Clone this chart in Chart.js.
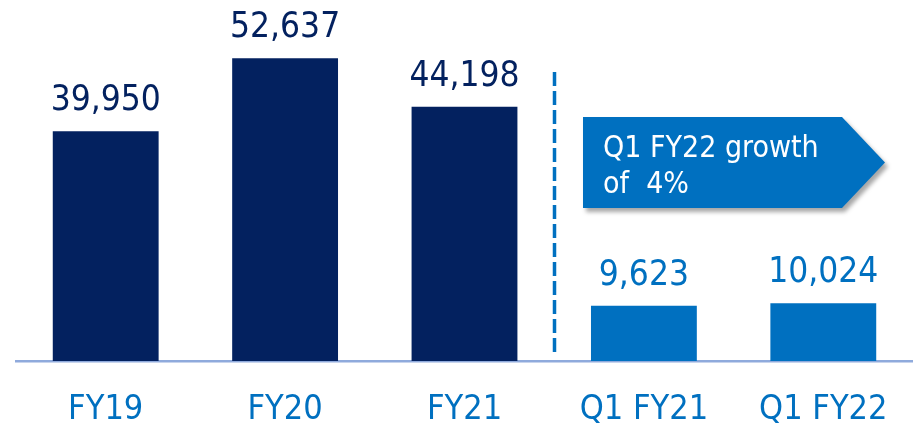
<!DOCTYPE html>
<html>
<head>
<meta charset="utf-8">
<script src="https://cdn.jsdelivr.net/npm/chart.js@4.4.1/dist/chart.umd.min.js"></script>
<style>
    html, body { margin: 0; padding: 0; background: #fff; }
    #wrap { width: 913px; height: 427px; }
</style>
</head>
<body>
<div id="wrap"><canvas id="revenueChart" width="913" height="427"></canvas></div>
<script>
const categories = ['FY19', 'FY20', 'FY21', 'Q1 FY21', 'Q1 FY22'];
const revenue = [39950, 52637, 44198, 9623, 10024];
const barColors = ['#03215F', '#03215F', '#03215F', '#0070C0', '#0070C0'];
const calloutText = ['Q1 FY22 growth', 'of  4%'];

const NAVY = '#03215F';
const BLUE = '#0070C0';
const LABEL_FONT = '"DejaVu Sans Condensed", "Liberation Sans", sans-serif';

// value labels over each bar
const valueLabels = {
    id: 'valueLabels',
    afterDatasetsDraw(chart) {
        const ctx = chart.ctx;
        const meta = chart.getDatasetMeta(0);
        ctx.save();
        ctx.font = '35px ' + LABEL_FONT;
        ctx.textAlign = 'center';
        ctx.textBaseline = 'alphabetic';
        meta.data.forEach(function (bar, i) {
            ctx.fillStyle = barColors[i];
            ctx.fillText(revenue[i].toLocaleString('en-US'), bar.x, bar.y - 21);
        });
        ctx.restore();
    }
};

// dashed divider + growth callout
const annotations = {
    id: 'annotations',
    afterDraw(chart) {
        const ctx = chart.ctx;
        const x = chart.scales.x;
        const area = chart.chartArea;

        ctx.save();
        const dx = Math.round(x.getPixelForValue(2.5)) + 0.5;
        ctx.strokeStyle = BLUE;
        ctx.lineWidth = 3.5;
        ctx.setLineDash([14, 5]);
        ctx.beginPath();
        ctx.moveTo(dx, 72);
        ctx.lineTo(dx, area.bottom - 6);
        ctx.stroke();
        ctx.restore();

        const left = 583, right = 842, tip = 885, top = 117, bottom = 208;
        ctx.save();
        ctx.shadowColor = 'rgba(0,0,0,0.35)';
        ctx.shadowOffsetX = 3;
        ctx.shadowOffsetY = 4;
        ctx.shadowBlur = 4;
        ctx.fillStyle = BLUE;
        ctx.beginPath();
        ctx.moveTo(left, top);
        ctx.lineTo(right, top);
        ctx.lineTo(tip, (top + bottom) / 2);
        ctx.lineTo(right, bottom);
        ctx.lineTo(left, bottom);
        ctx.closePath();
        ctx.fill();
        ctx.restore();

        ctx.save();
        ctx.fillStyle = '#ffffff';
        ctx.font = '30px ' + LABEL_FONT;
        ctx.textAlign = 'left';
        ctx.textBaseline = 'alphabetic';
        ctx.fillText(calloutText[0], 603, 157);
        ctx.fillText(calloutText[1], 603, 193);
        ctx.restore();
    }
};

const ctx = document.getElementById('revenueChart').getContext('2d');
const revenueChart = new Chart(ctx, {
    type: 'bar',
    data: {
        labels: categories,
        datasets: [{
            data: revenue,
            backgroundColor: barColors,
            borderWidth: 0,
            categoryPercentage: 1,
            barPercentage: 0.59
        }]
    },
    options: {
        responsive: false,
        animation: false,
        devicePixelRatio: 1,
        layout: { padding: { left: 16, right: 0, top: 16, bottom: 0 } },
        plugins: {
            legend: { display: false },
            tooltip: { enabled: false }
        },
        scales: {
            x: {
                grid: { display: false, drawTicks: false },
                border: { display: true, color: '#8FAADC', width: 2.5 },
                ticks: {
                    color: BLUE,
                    padding: 29,
                    font: { family: LABEL_FONT, size: 34 }
                },
                afterFit(scale) {
                    scale.height = 66;
                    scale.paddingLeft = 0;
                    scale.paddingRight = 0;
                }
            },
            y: {
                display: false,
                min: 0,
                max: 60000
            }
        }
    },
    plugins: [valueLabels, annotations]
});
</script>
</body>
</html>
